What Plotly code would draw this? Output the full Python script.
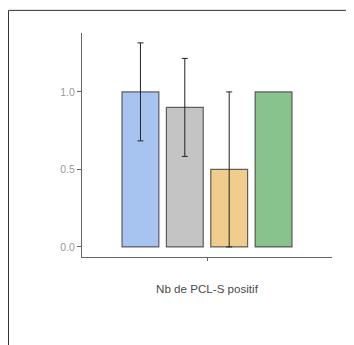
import plotly.graph_objects as go

category = ["Nb de PCL-S positif"]
groups = ["G1", "G2", "G3", "G4"]
values = [1.0, 0.9, 0.5, 1.0]
errors = [0.316, 0.316, 0.5, 0.0]
colors = ["rgba(120,165,232,0.65)", "rgba(165,165,165,0.65)",
          "rgba(232,178,80,0.65)", "rgba(80,165,85,0.68)"]
show_err = [True, True, True, False]

fig = go.Figure()
for g, v, e, c, s in zip(groups, values, errors, colors, show_err):
    fig.add_trace(go.Bar(
        x=category, y=[v], name=g,
        marker=dict(color=c, line=dict(color="rgba(60,60,60,0.8)", width=1.2)),
        error_y=dict(type="data", array=[e], visible=s, color="#222", thickness=1, width=3),
    ))

fig.update_layout(
    width=354, height=345,
    margin=dict(l=74, r=30, t=25, b=96),
    barmode="group", bargap=0.29, bargroupgap=0.17,
    showlegend=False,
    plot_bgcolor="white", paper_bgcolor="white",
    font=dict(family="Liberation Sans, Arial", color="#444"),
    xaxis=dict(
        showline=True, linecolor="#666", linewidth=1,
        ticks="outside", ticklen=3, tickcolor="#666",
        showticklabels=False, showgrid=False, zeroline=False,
        title=dict(text="Nb de PCL-S positif", font=dict(size=11.6, color="#4a4a4a"), standoff=24),
    ),
    yaxis=dict(
        range=[-0.065, 1.38], tickvals=[0, 0.5, 1.0], ticktext=["0.0", "0.5", "1.0"],
        showline=True, linecolor="#666", linewidth=1,
        ticks="outside", ticklen=4, tickcolor="#666",
        tickfont=dict(size=10.5, color="#999"),
        showgrid=False, zeroline=False,
    ),
    shapes=[dict(type="rect", xref="paper", yref="paper",
                 x0=-0.294, x1=1.4, y0=-0.6, y1=1.101,
                 line=dict(color="#333", width=1), layer="below")],
)

fig.write_html("out.html")
